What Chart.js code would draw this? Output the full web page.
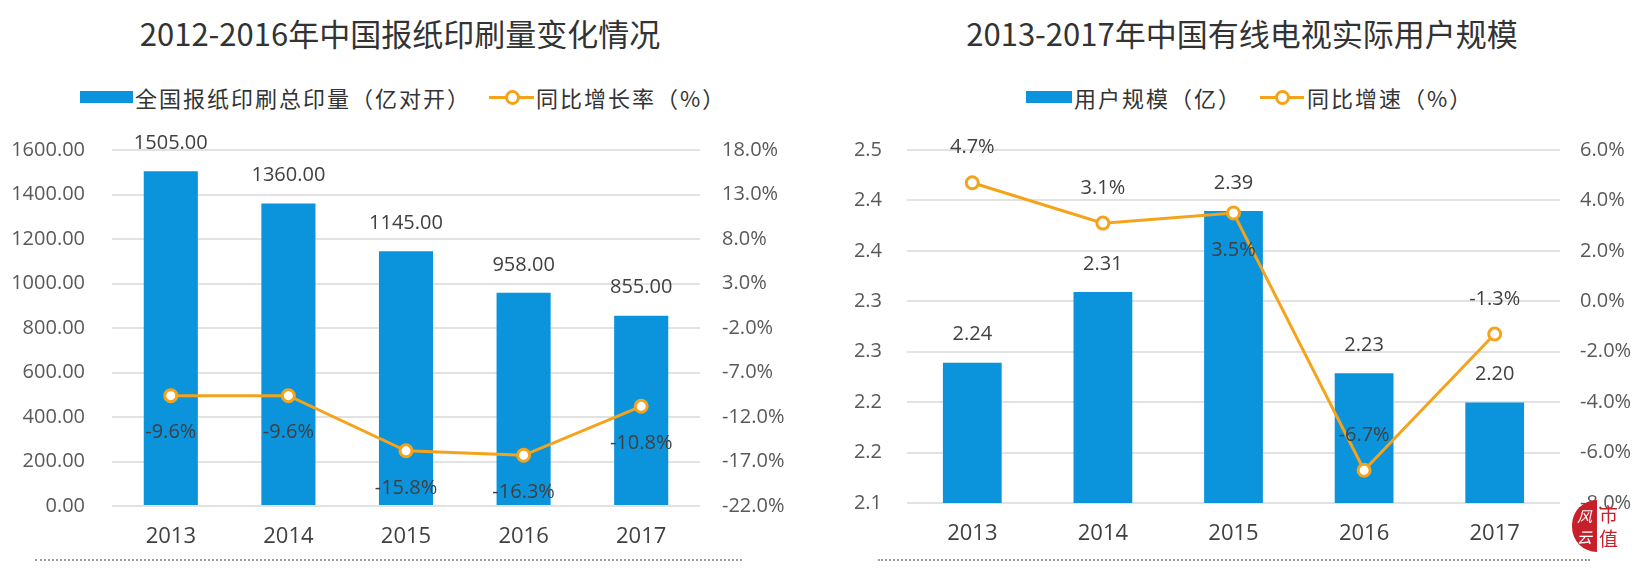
<!DOCTYPE html>
<html>
<head>
<meta charset="utf-8">
<script src="https://cdn.jsdelivr.net/npm/chart.js@4/dist/chart.umd.min.js"></script>
<style>
  body { margin: 0; background: #fff; font-family: 'Noto Sans CJK SC', 'Noto Sans', sans-serif; }
  #page { position: relative; width: 1642px; height: 568px; overflow: hidden; }
  .title { position: absolute; top: 10px; font-size: 31px; color: #333; white-space: nowrap; transform: translateX(-50%); }
  .legend { position: absolute; top: 82px; font-size: 22px; color: #333; white-space: nowrap; line-height: 30px; letter-spacing: 2px; }
  .box { position: absolute; top: 9px; height: 12px; background: #0b94dc; }
  .lmark { position: absolute; top: 14px; height: 3px; background: #f5a31a; }
  .dot { position: absolute; top: 8px; width: 9px; height: 9px; border: 3px solid #f5a31a; border-radius: 50%; background: #fff; }
  .panel { position: absolute; top: 0; height: 568px; }
  .dotted { position: absolute; top: 559px; height: 0; border-top: 2px dotted #9a9a9a; }
  #logo { position: absolute; left: 1572px; top: 500px; width: 50px; height: 52px; }
  #logo .l { position: absolute; left: 0; top: 0; width: 25px; height: 52px; background: #c8202a; border-radius: 26px 0 0 26px; color: #fff; font-size: 15px; line-height: 21px; text-align: center; padding-top: 5px; box-sizing: border-box; font-style: italic; }
  #logo .r { position: absolute; left: 27px; top: 0; width: 23px; height: 52px; color: #c8202a; font-size: 19px; line-height: 24px; padding-top: 2px; }
</style>
</head>
<body>
<div id="page">
  <div class="title" style="left:400px">2012-2016年中国报纸印刷量变化情况</div>
  <div class="title" style="left:1242px">2013-2017年中国有线电视实际用户规模</div>

  <div class="legend" style="left:0;width:820px">
    <div class="box" style="left:80px;width:53px"></div>
    <span style="position:absolute;left:135px">全国报纸印刷总印量（亿对开）</span>
    <div class="lmark" style="left:489px;width:45px"></div>
    <div class="dot" style="left:505px"></div>
    <span style="position:absolute;left:536px">同比增长率（%）</span>
  </div>
  <div class="legend" style="left:0;width:1642px">
    <div class="box" style="left:1026px;width:46px"></div>
    <span style="position:absolute;left:1074px">用户规模（亿）</span>
    <div class="lmark" style="left:1260px;width:44px"></div>
    <div class="dot" style="left:1275px"></div>
    <span style="position:absolute;left:1307px">同比增速（%）</span>
  </div>

  <div class="panel" style="left:0;width:810px"><canvas id="paper"></canvas></div>
  <div class="panel" style="left:820px;width:822px"><canvas id="tv"></canvas></div>

  <div class="dotted" style="left:35px;width:707px"></div>
  <div class="dotted" style="left:878px;width:712px"></div>

  <div id="logo"><div class="l">风<br>云</div><div class="r">市<br>值</div></div>
</div>

<script>
// left chart: newspaper printing
const paperYears = ['2013', '2014', '2015', '2016', '2017'];
const paperPrint = [1505, 1360, 1145, 958, 855];
const paperGrowth = [-9.6, -9.6, -15.8, -16.3, -10.8];

// right chart: cable TV users
const tvYears = ['2013', '2014', '2015', '2016', '2017'];
const tvUsers = [2.259, 2.339, 2.431, 2.247, 2.214];      // bar heights as drawn
const tvUsersText = ['2.24', '2.31', '2.39', '2.23', '2.20']; // printed labels
const tvGrowth = [4.7, 3.1, 3.5, -6.7, -1.3];
const tvLeftTicks = ['2.1', '2.2', '2.2', '2.3', '2.3', '2.4', '2.4', '2.5'];

const BAR = '#0b94dc';
const LINE = '#f5a31a';
const FONT = "'Open Sans', 'Noto Sans CJK SC', sans-serif";

// simple value-label plugin (no datalabels plugin available offline)
const valueLabels = {
  id: 'valueLabels',
  afterDatasetsDraw(chart) {
    const ctx = chart.ctx;
    ctx.save();
    ctx.font = '20px ' + FONT;
    ctx.fillStyle = '#404040';
    ctx.textAlign = 'center';
    ctx.textBaseline = 'middle';
    chart.data.datasets.forEach((ds, i) => {
      const meta = chart.getDatasetMeta(i);
      meta.data.forEach((el, j) => {
        const txt = ds.labelText[j];
        let dy;
        if (ds.type === 'bar') dy = -28;
        else dy = ds.labelSide[j] === 'above' ? -35 : 37;
        ctx.fillText(txt, el.x, el.y + dy);
      });
    });
    ctx.restore();
  }
};

function makeChart(id, cfg) {
  const w = cfg.width;
  const canvas = document.getElementById(id);
  canvas.width = w; canvas.height = 568;
  canvas.style.width = w + 'px'; canvas.style.height = '568px';

  return new Chart(canvas, {
    data: {
      labels: cfg.labels,
      datasets: [
        {
          type: 'line', order: 0, yAxisID: 'y1',
          data: cfg.line, labelText: cfg.lineText, labelSide: cfg.lineSide,
          borderColor: LINE, borderWidth: 3,
          pointRadius: 6, pointBorderWidth: 3,
          pointBackgroundColor: '#fff', pointBorderColor: LINE,
          tension: 0,
        },
        {
          type: 'bar', order: 1, yAxisID: 'y',
          data: cfg.bars, labelText: cfg.barText,
          backgroundColor: BAR,
          categoryPercentage: 1, barPercentage: cfg.barPct,
        },
      ]
    },
    options: {
      responsive: false,
      animation: false,
      layout: { padding: { top: 150, left: 0, right: 0, bottom: 0 } },
      plugins: { legend: { display: false }, tooltip: { enabled: false } },
      scales: {
        x: {
          grid: { display: false, drawTicks: false },
          border: { display: false },
          ticks: { color: '#404040', font: { size: 22, family: FONT }, padding: 18 },
          afterFit: s => { s.height = cfg.xHeight; },
        },
        y: {
          position: 'left',
          min: cfg.yMin, max: cfg.yMax,
          grid: { color: '#e2e2e2', lineWidth: 2, drawTicks: false },
          border: { display: false },
          ticks: { color: '#595959', font: { size: 20, family: FONT }, padding: cfg.leftPad, ...cfg.yTicks },
          afterBuildTicks: cfg.yBuild,
          afterFit: s => { s.width = cfg.leftW; },
        },
        y1: {
          position: 'right',
          min: cfg.y1Min, max: cfg.y1Max,
          grid: { display: false, drawTicks: false },
          border: { display: false },
          ticks: {
            color: '#595959', font: { size: 20, family: FONT }, padding: cfg.rightPad,
            stepSize: cfg.y1Step, callback: v => v.toFixed(1) + '%'
          },
          afterFit: s => { s.width = cfg.rightW; },
        },
      }
    },
    plugins: [valueLabels]
  });
}

makeChart('paper', {
  width: 810,
  labels: paperYears,
  bars: paperPrint,
  barText: paperPrint.map(v => v.toFixed(2)),
  line: paperGrowth,
  lineText: paperGrowth.map(v => v.toFixed(1) + '%'),
  lineSide: ['below', 'below', 'below', 'below', 'below'],
  barPct: 0.46,
  yMin: 0, yMax: 1600,
  yTicks: { stepSize: 200, callback: v => v.toFixed(2) },
  y1Min: -22, y1Max: 18, y1Step: 5,
  leftW: 112, rightW: 110, leftPad: 27, rightPad: 22, xHeight: 62,
});

makeChart('tv', {
  width: 822,
  labels: tvYears,
  bars: tvUsers,
  barText: tvUsersText,
  line: tvGrowth,
  lineText: tvGrowth.map(v => v.toFixed(1) + '%'),
  lineSide: ['above', 'above', 'below', 'above', 'above'],
  barPct: 0.45,
  yMin: 2.1, yMax: 2.5,
  yTicks: { callback: (v, i) => tvLeftTicks[i] },
  yBuild: s => {
    const n = tvLeftTicks.length - 1;
    s.ticks = tvLeftTicks.map((_, i) => ({ value: s.min + (s.max - s.min) * i / n }));
  },
  y1Min: -8, y1Max: 6, y1Step: 2,
  leftW: 87, rightW: 82, leftPad: 25, rightPad: 20, xHeight: 65,
});
</script>
</body>
</html>
